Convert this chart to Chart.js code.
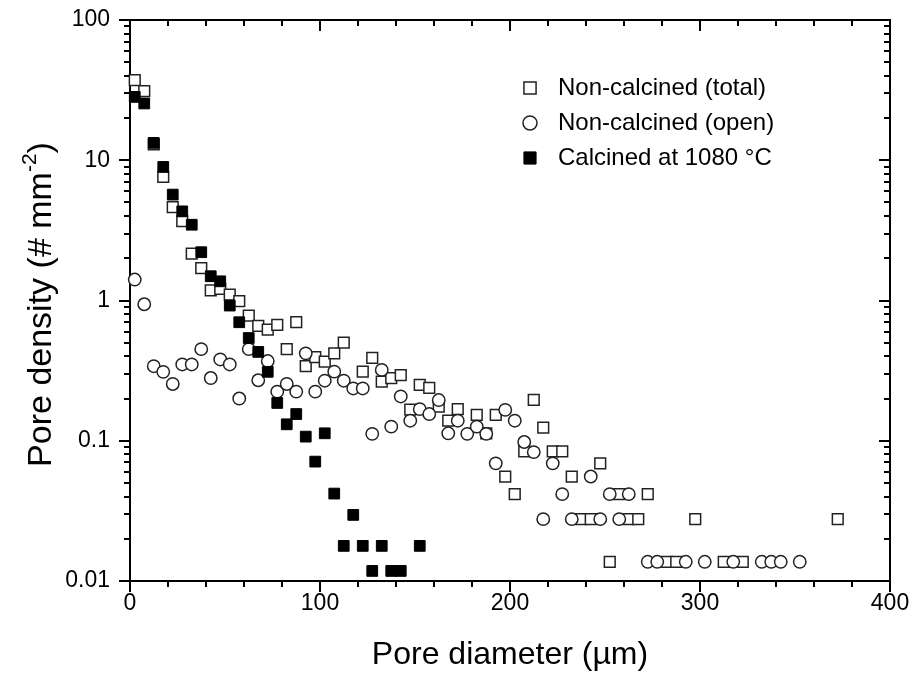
<!DOCTYPE html>
<html>
<head>
<meta charset="utf-8">
<title>Pore density vs pore diameter</title>
<script src="https://cdn.jsdelivr.net/npm/chart.js@4.4.1/dist/chart.umd.min.js"></script>
<style>
  html, body { margin: 0; padding: 0; background: #fff; }
</style>
</head>
<body>
<canvas id="poreChart" width="912" height="677"></canvas>
<script>
// pore size distributions, 5 um bins (bin centres on x)
const totalX = [2.5, 7.5, 12.5, 17.5, 22.5, 27.5, 32.5, 37.5, 42.5, 47.5, 52.5, 57.5, 62.5, 67.5, 72.5, 77.5,
  82.5, 87.5, 92.5, 97.5, 102.5, 107.5, 112.5, 122.5, 127.5, 132.5, 137.5, 142.5, 147.5, 152.5, 157.5, 162.5,
  167.5, 172.5, 182.5, 187.5, 192.5, 197.5, 202.5, 207.5, 212.5, 217.5, 222.5, 227.5, 232.5, 237.5, 242.5,
  247.5, 252.5, 257.5, 262.5, 267.5, 272.5, 282.5, 287.5, 297.5, 312.5, 322.5, 372.5];
const totalY = [37.3, 31.1, 13.0, 7.6, 4.64, 3.68, 2.16, 1.70, 1.18, 1.21, 1.10, 0.99, 0.78, 0.66, 0.62, 0.67,
  0.45, 0.70, 0.34, 0.394, 0.367, 0.42, 0.50, 0.311, 0.39, 0.264, 0.28, 0.294, 0.167, 0.25, 0.238, 0.175,
  0.139, 0.168, 0.153, 0.113, 0.153, 0.0556, 0.0416, 0.084, 0.196, 0.124, 0.084, 0.084, 0.0556, 0.0276, 0.0276,
  0.069, 0.0137, 0.0416, 0.0276, 0.0276, 0.0416, 0.0137, 0.0137, 0.0276, 0.0137, 0.0137, 0.0276];

const openX = [2.5, 7.5, 12.5, 17.5, 22.5, 27.5, 32.5, 37.5, 42.5, 47.5, 52.5, 57.5, 62.5, 67.5, 72.5, 77.5,
  82.5, 87.5, 92.5, 97.5, 102.5, 107.5, 112.5, 117.5, 122.5, 127.5, 132.5, 137.5, 142.5, 147.5, 152.5, 157.5,
  162.5, 167.5, 172.5, 177.5, 182.5, 187.5, 192.5, 197.5, 202.5, 207.5, 212.5, 217.5, 222.5, 227.5, 232.5,
  242.5, 247.5, 252.5, 257.5, 262.5, 272.5, 277.5, 292.5, 302.5, 317.5, 332.5, 337.5, 342.5, 352.5];
const openY = [1.41, 0.94, 0.34, 0.31, 0.254, 0.35, 0.35, 0.45, 0.28, 0.38, 0.35, 0.20, 0.45, 0.27, 0.37, 0.224,
  0.254, 0.224, 0.42, 0.224, 0.268, 0.311, 0.268, 0.236, 0.236, 0.112, 0.32, 0.126, 0.207, 0.139, 0.168, 0.155,
  0.195, 0.113, 0.139, 0.112, 0.126, 0.112, 0.069, 0.166, 0.139, 0.098, 0.083, 0.0276, 0.069, 0.0416, 0.0276,
  0.0556, 0.0276, 0.0416, 0.0276, 0.0416, 0.0137, 0.0137, 0.0137, 0.0137, 0.0137, 0.0137, 0.0137, 0.0137, 0.0137];

const calcX = [2.5, 7.5, 12.5, 17.5, 22.5, 27.5, 32.5, 37.5, 42.5, 47.5, 52.5, 57.5, 62.5, 67.5, 72.5, 77.5,
  82.5, 87.5, 92.5, 97.5, 102.5, 107.5, 112.5, 117.5, 122.5, 127.5, 132.5, 137.5, 142.5, 152.5];
const calcY = [28.3, 25.4, 13.3, 8.96, 5.69, 4.32, 3.47, 2.21, 1.49, 1.37, 0.92, 0.70, 0.54, 0.43, 0.31, 0.186,
  0.131, 0.155, 0.107, 0.071, 0.113, 0.042, 0.0178, 0.0296, 0.0178, 0.0118, 0.0178, 0.0118, 0.0118, 0.0178];

const seriesNames = ['Non-calcined (total)', 'Non-calcined (open)', 'Calcined at 1080 \u00B0C'];

// axis ticks
const xMajor = [0, 100, 200, 300, 400];
const xMinor = [20, 40, 60, 80, 120, 140, 160, 180, 220, 240, 260, 280, 320, 340, 360, 380];
const yMajor = [0.01, 0.1, 1, 10, 100];
const yMinor = [0.02, 0.03, 0.04, 0.05, 0.06, 0.07, 0.08, 0.09, 0.2, 0.3, 0.4, 0.5, 0.6, 0.7, 0.8, 0.9,
  2, 3, 4, 5, 6, 7, 8, 9, 20, 30, 40, 50, 60, 70, 80, 90];

const FONT = "'Liberation Sans', Arial, sans-serif";
const pts = (xs, ys) => xs.map((x, i) => ({ x, y: ys[i] }));

// box frame + Origin-style ticks (out on bottom/left, in on top/right)
const frameTicks = {
  id: 'frameTicks',
  beforeDatasetsDraw(chart) {
    const { ctx, chartArea: a, scales: { x, y } } = chart;
    ctx.save();
    ctx.strokeStyle = '#000';
    ctx.lineWidth = 2;
    ctx.strokeRect(a.left, a.top, a.right - a.left, a.bottom - a.top);
    ctx.beginPath();
    const xt = (v, len) => {
      const px = Math.round(x.getPixelForValue(v));
      ctx.moveTo(px, a.bottom); ctx.lineTo(px, a.bottom + len);
      ctx.moveTo(px, a.top); ctx.lineTo(px, a.top + len);
    };
    const yt = (v, len) => {
      const py = Math.round(y.getPixelForValue(v));
      ctx.moveTo(a.left, py); ctx.lineTo(a.left - len, py);
      ctx.moveTo(a.right, py); ctx.lineTo(a.right - len, py);
    };
    xMajor.forEach(v => xt(v, 11));
    xMinor.forEach(v => xt(v, 6));
    yMajor.forEach(v => yt(v, 11));
    yMinor.forEach(v => yt(v, 6));
    ctx.stroke();
    ctx.restore();
  }
};

// y title with superscript, legend inside the plot
const labels = {
  id: 'labels',
  afterDatasetsDraw(chart) {
    const { ctx, chartArea: a } = chart;
    ctx.save();
    ctx.fillStyle = '#000';

    // rotated y axis title
    const F = 34;
    const parts = [
      { t: 'Pore density (# mm', size: F, dy: 0 },
      { t: '-2', size: Math.round(F * 0.62), dy: -F * 0.36 },
      { t: ')', size: F, dy: 0 }
    ];
    let total = 0;
    parts.forEach(p => { ctx.font = `${p.size}px ${FONT}`; p.w = ctx.measureText(p.t).width; total += p.w; });
    ctx.translate(42, (a.top + a.bottom) / 2 + 4);
    ctx.rotate(-Math.PI / 2);
    ctx.textBaseline = 'middle';
    let cx = -total / 2;
    parts.forEach(p => {
      ctx.font = `${p.size}px ${FONT}`;
      ctx.fillText(p.t, cx, p.dy);
      cx += p.w;
    });
    ctx.setTransform(1, 0, 0, 1, 0, 0);

    // legend
    const rows = [88, 123, 158];
    const legendRadius = { rect: 8.6, circle: 7 };
    ctx.font = `24px ${FONT}`;
    ctx.textBaseline = 'middle';
    chart.data.datasets.forEach((ds, i) => {
      ctx.fillStyle = ds.backgroundColor;
      ctx.strokeStyle = ds.borderColor;
      ctx.lineWidth = ds.borderWidth;
      Chart.helpers.drawPoint(ctx, {
        pointStyle: ds.pointStyle, radius: legendRadius[ds.pointStyle], rotation: 0, borderWidth: ds.borderWidth
      }, 530, rows[i]);
      ctx.fillStyle = '#000';
      ctx.fillText(seriesNames[i], 558, rows[i]);
    });
    ctx.restore();
  }
};

new Chart(document.getElementById('poreChart'), {
  type: 'scatter',
  data: {
    datasets: [
      {
        label: seriesNames[0],
        data: pts(totalX, totalY),
        pointStyle: 'rect',
        pointRadius: 7.6,
        backgroundColor: '#fff',
        borderColor: '#222',
        borderWidth: 1.5,
        clip: false,
        order: 3
      },
      {
        label: seriesNames[1],
        data: pts(openX, openY),
        pointStyle: 'circle',
        pointRadius: 6.2,
        backgroundColor: '#fff',
        borderColor: '#222',
        borderWidth: 1.5,
        clip: false,
        order: 2
      },
      {
        label: seriesNames[2],
        data: pts(calcX, calcY),
        pointStyle: 'rect',
        pointRadius: 7.6,
        backgroundColor: '#000',
        borderColor: '#000',
        borderWidth: 1,
        clip: false,
        order: 1
      }
    ]
  },
  options: {
    responsive: false,
    animation: false,
    devicePixelRatio: 1,
    layout: { padding: { top: 20, right: 22, left: 0, bottom: 0 } },
    plugins: { legend: { display: false }, tooltip: { enabled: false } },
    scales: {
      x: {
        type: 'linear',
        min: 0,
        max: 400,
        grid: { display: false, drawTicks: false },
        border: { display: false },
        ticks: {
          stepSize: 100,
          padding: 9,
          color: '#000',
          font: { family: FONT, size: 23 },
          maxRotation: 0
        },
        title: {
          display: true,
          text: 'Pore diameter (\u00B5m)',
          color: '#000',
          font: { family: FONT, size: 32 },
          padding: { top: 0, bottom: 3 }
        },
        afterFit: s => { s.height = 96; s.paddingLeft = 0; s.paddingRight = 0; }
      },
      y: {
        type: 'logarithmic',
        min: 0.01,
        max: 100,
        grid: { display: false, drawTicks: false },
        border: { display: false },
        afterBuildTicks: s => { s.ticks = yMajor.map(v => ({ value: v })); },
        ticks: {
          padding: 20,
          color: '#000',
          font: { family: FONT, size: 23 },
          callback: v => String(v)
        },
        afterFit: s => { s.width = 130; s.paddingTop = 0; s.paddingBottom = 0; }
      }
    }
  },
  plugins: [frameTicks, labels]
});
</script>
</body>
</html>
